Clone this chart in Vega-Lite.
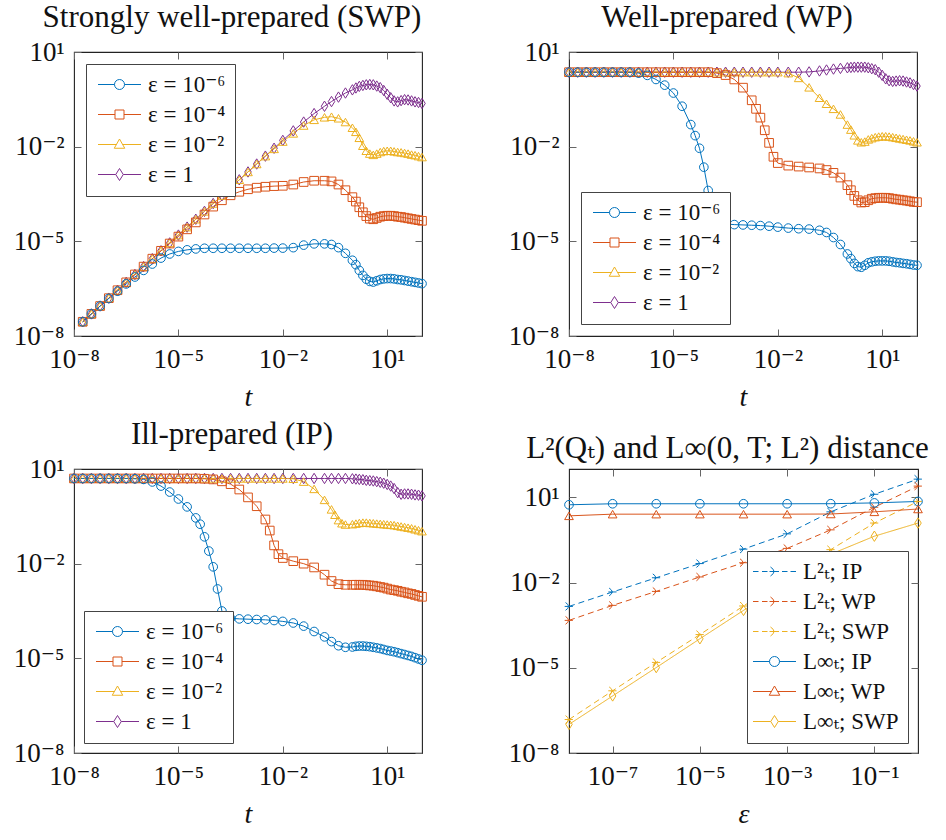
{
"$schema": "https://vega.github.io/schema/vega-lite/v6.json",
"background": "white",
"padding": {"left": 12, "top": 1, "right": 0, "bottom": 0},
"config": {
  "font": "Liberation Serif, Times New Roman, DejaVu Serif, serif",
  "view": {"stroke": "#222", "strokeWidth": 1.1},
  "axis": {"domain": false, "grid": false, "tickSize": -7, "tickColor": "#666", "tickWidth": 1, "labelPadding": 17, "labelFont": "Liberation Serif, Times New Roman, DejaVu Serif, serif", "labelFontSize": 27, "labelColor": "#111", "labelFlush": false, "labelOverlap": false, "titleFont": "Liberation Serif, Times New Roman, DejaVu Serif, serif", "titleFontSize": 28, "titleFontStyle": "italic", "titleFontWeight": "normal", "titleColor": "#111", "titlePadding": 11},
  "legend": {"labelFont": "Liberation Serif, Times New Roman, DejaVu Serif, serif"},
  "title": {"font": "Liberation Serif, Times New Roman, DejaVu Serif, serif", "fontSize": 31, "fontWeight": "normal", "color": "#111"}
},
"datasets": {
"swp": [
{"e":"1","t":1.78e-8,"v":2.82e-8},{"e":"1","t":3.16e-8,"v":5.01e-8},{"e":"1","t":5.62e-8,"v":8.91e-8},{"e":"1","t":1e-7,"v":1.58e-7},{"e":"1","t":1.78e-7,"v":2.82e-7},{"e":"1","t":3.16e-7,"v":5.01e-7},{"e":"1","t":5.62e-7,"v":8.91e-7},{"e":"1","t":1e-6,"v":1.58e-6},{"e":"1","t":1.78e-6,"v":2.82e-6},{"e":"1","t":3.16e-6,"v":5.01e-6},{"e":"1","t":5.62e-6,"v":8.91e-6},{"e":"1","t":1e-5,"v":1.58e-5},{"e":"1","t":1.78e-5,"v":2.82e-5},{"e":"1","t":3.16e-5,"v":5.01e-5},{"e":"1","t":5.62e-5,"v":8.91e-5},{"e":"1","t":1e-4,"v":1.58e-4},{"e":"1","t":1.78e-4,"v":2.82e-4},{"e":"1","t":3.16e-4,"v":5.01e-4},{"e":"1","t":5.62e-4,"v":8.91e-4},{"e":"1","t":1e-3,"v":1.58e-3},{"e":"1","t":1.78e-3,"v":2.82e-3},{"e":"1","t":3.16e-3,"v":5.01e-3},{"e":"1","t":5.62e-3,"v":8.91e-3},{"e":"1","t":0.01,"v":0.0158},{"e":"1","t":0.02,"v":0.0316},{"e":"1","t":0.0398,"v":0.0603},{"e":"1","t":0.0794,"v":0.112},{"e":"1","t":0.158,"v":0.191},{"e":"1","t":0.251,"v":0.269},{"e":"1","t":0.398,"v":0.372},{"e":"1","t":0.631,"v":0.501},{"e":"1","t":1,"v":0.631},{"e":"1","t":1.26,"v":0.724},{"e":"1","t":1.58,"v":0.813},{"e":"1","t":2,"v":0.871},{"e":"1","t":2.51,"v":0.912},{"e":"1","t":3.16,"v":0.933},{"e":"1","t":3.98,"v":0.912},{"e":"1","t":5.01,"v":0.832},{"e":"1","t":6.31,"v":0.741},{"e":"1","t":7.94,"v":0.603},{"e":"1","t":10,"v":0.457},{"e":"1","t":12.6,"v":0.355},{"e":"1","t":15.8,"v":0.282},{"e":"1","t":20,"v":0.263},{"e":"1","t":25.1,"v":0.288},{"e":"1","t":31.6,"v":0.309},{"e":"1","t":39.8,"v":0.302},{"e":"1","t":50.1,"v":0.282},{"e":"1","t":63.1,"v":0.263},{"e":"1","t":79.4,"v":0.251},{"e":"1","t":100,"v":0.234},
{"e":"1e-2","t":1.78e-8,"v":2.82e-8},{"e":"1e-2","t":3.16e-8,"v":5.01e-8},{"e":"1e-2","t":5.62e-8,"v":8.91e-8},{"e":"1e-2","t":1e-7,"v":1.58e-7},{"e":"1e-2","t":1.78e-7,"v":2.82e-7},{"e":"1e-2","t":3.16e-7,"v":5.01e-7},{"e":"1e-2","t":5.62e-7,"v":8.91e-7},{"e":"1e-2","t":1e-6,"v":1.58e-6},{"e":"1e-2","t":1.78e-6,"v":2.82e-6},{"e":"1e-2","t":3.16e-6,"v":5.01e-6},{"e":"1e-2","t":5.62e-6,"v":8.91e-6},{"e":"1e-2","t":1e-5,"v":1.58e-5},{"e":"1e-2","t":1.78e-5,"v":2.82e-5},{"e":"1e-2","t":3.16e-5,"v":5.01e-5},{"e":"1e-2","t":5.62e-5,"v":8.91e-5},{"e":"1e-2","t":1e-4,"v":1.58e-4},{"e":"1e-2","t":1.78e-4,"v":2.82e-4},{"e":"1e-2","t":3.16e-4,"v":5.01e-4},{"e":"1e-2","t":5.62e-4,"v":8.91e-4},{"e":"1e-2","t":1e-3,"v":1.58e-3},{"e":"1e-2","t":1.78e-3,"v":2.82e-3},{"e":"1e-2","t":3.16e-3,"v":5.01e-3},{"e":"1e-2","t":5.62e-3,"v":8.51e-3},{"e":"1e-2","t":0.01,"v":0.0145},{"e":"1e-2","t":0.02,"v":0.0263},{"e":"1e-2","t":0.0398,"v":0.0468},{"e":"1e-2","t":0.0794,"v":0.0708},{"e":"1e-2","t":0.158,"v":0.0851},{"e":"1e-2","t":0.251,"v":0.0891},{"e":"1e-2","t":0.398,"v":0.0794},{"e":"1e-2","t":0.631,"v":0.0603},{"e":"1e-2","t":1,"v":0.0398},{"e":"1e-2","t":1.26,"v":0.0295},{"e":"1e-2","t":1.58,"v":0.0191},{"e":"1e-2","t":2,"v":0.0107},{"e":"1e-2","t":2.51,"v":7.41e-3},{"e":"1e-2","t":3.16,"v":6.03e-3},{"e":"1e-2","t":3.98,"v":5.5e-3},{"e":"1e-2","t":5.01,"v":6.03e-3},{"e":"1e-2","t":6.31,"v":6.76e-3},{"e":"1e-2","t":7.94,"v":7.24e-3},{"e":"1e-2","t":10,"v":7.41e-3},{"e":"1e-2","t":12.6,"v":7.41e-3},{"e":"1e-2","t":15.8,"v":7.08e-3},{"e":"1e-2","t":20,"v":6.76e-3},{"e":"1e-2","t":25.1,"v":6.61e-3},{"e":"1e-2","t":31.6,"v":6.31e-3},{"e":"1e-2","t":39.8,"v":6.03e-3},{"e":"1e-2","t":50.1,"v":5.62e-3},{"e":"1e-2","t":63.1,"v":5.37e-3},{"e":"1e-2","t":79.4,"v":5.01e-3},{"e":"1e-2","t":100,"v":4.68e-3},
{"e":"1e-4","t":1.78e-8,"v":2.82e-8},{"e":"1e-4","t":3.16e-8,"v":5.01e-8},{"e":"1e-4","t":5.62e-8,"v":8.91e-8},{"e":"1e-4","t":1e-7,"v":1.58e-7},{"e":"1e-4","t":1.78e-7,"v":2.82e-7},{"e":"1e-4","t":3.16e-7,"v":5.01e-7},{"e":"1e-4","t":5.62e-7,"v":8.91e-7},{"e":"1e-4","t":1e-6,"v":1.58e-6},{"e":"1e-4","t":1.78e-6,"v":2.82e-6},{"e":"1e-4","t":3.16e-6,"v":5.01e-6},{"e":"1e-4","t":5.62e-6,"v":8.51e-6},{"e":"1e-4","t":1e-5,"v":1.41e-5},{"e":"1e-4","t":1.78e-5,"v":2.4e-5},{"e":"1e-4","t":3.16e-5,"v":3.98e-5},{"e":"1e-4","t":5.62e-5,"v":7.08e-5},{"e":"1e-4","t":1e-4,"v":1.26e-4},{"e":"1e-4","t":1.78e-4,"v":2.0e-4},{"e":"1e-4","t":3.16e-4,"v":2.88e-4},{"e":"1e-4","t":5.62e-4,"v":3.72e-4},{"e":"1e-4","t":1e-3,"v":4.47e-4},{"e":"1e-4","t":1.78e-3,"v":5.01e-4},{"e":"1e-4","t":3.16e-3,"v":5.37e-4},{"e":"1e-4","t":5.62e-3,"v":5.62e-4},{"e":"1e-4","t":0.01,"v":5.75e-4},{"e":"1e-4","t":0.02,"v":6.31e-4},{"e":"1e-4","t":0.0398,"v":7.59e-4},{"e":"1e-4","t":0.0794,"v":8.32e-4},{"e":"1e-4","t":0.158,"v":8.32e-4},{"e":"1e-4","t":0.251,"v":7.94e-4},{"e":"1e-4","t":0.398,"v":6.31e-4},{"e":"1e-4","t":0.631,"v":4.17e-4},{"e":"1e-4","t":1,"v":2.51e-4},{"e":"1e-4","t":1.26,"v":1.82e-4},{"e":"1e-4","t":1.58,"v":1.2e-4},{"e":"1e-4","t":2,"v":8.32e-5},{"e":"1e-4","t":2.51,"v":6.31e-5},{"e":"1e-4","t":3.16,"v":5.25e-5},{"e":"1e-4","t":3.98,"v":5.01e-5},{"e":"1e-4","t":5.01,"v":5.5e-5},{"e":"1e-4","t":6.31,"v":6.03e-5},{"e":"1e-4","t":7.94,"v":6.31e-5},{"e":"1e-4","t":10,"v":6.46e-5},{"e":"1e-4","t":12.6,"v":6.46e-5},{"e":"1e-4","t":15.8,"v":6.31e-5},{"e":"1e-4","t":20,"v":6.03e-5},{"e":"1e-4","t":25.1,"v":5.89e-5},{"e":"1e-4","t":31.6,"v":5.62e-5},{"e":"1e-4","t":39.8,"v":5.37e-5},{"e":"1e-4","t":50.1,"v":5.13e-5},{"e":"1e-4","t":63.1,"v":4.9e-5},{"e":"1e-4","t":79.4,"v":4.68e-5},{"e":"1e-4","t":100,"v":4.47e-5},
{"e":"1e-6","t":1.78e-8,"v":2.82e-8},{"e":"1e-6","t":3.16e-8,"v":5.01e-8},{"e":"1e-6","t":5.62e-8,"v":8.91e-8},{"e":"1e-6","t":1e-7,"v":1.55e-7},{"e":"1e-6","t":1.78e-7,"v":2.63e-7},{"e":"1e-6","t":3.16e-7,"v":4.47e-7},{"e":"1e-6","t":5.62e-7,"v":7.41e-7},{"e":"1e-6","t":1e-6,"v":1.2e-6},{"e":"1e-6","t":1.78e-6,"v":1.91e-6},{"e":"1e-6","t":3.16e-6,"v":2.95e-6},{"e":"1e-6","t":5.62e-6,"v":3.98e-6},{"e":"1e-6","t":1e-5,"v":4.79e-6},{"e":"1e-6","t":1.78e-5,"v":5.37e-6},{"e":"1e-6","t":3.16e-5,"v":5.75e-6},{"e":"1e-6","t":5.62e-5,"v":6.03e-6},{"e":"1e-6","t":1e-4,"v":6.03e-6},{"e":"1e-6","t":1.78e-4,"v":6.03e-6},{"e":"1e-6","t":3.16e-4,"v":6.03e-6},{"e":"1e-6","t":5.62e-4,"v":6.03e-6},{"e":"1e-6","t":1e-3,"v":6.03e-6},{"e":"1e-6","t":1.78e-3,"v":6.03e-6},{"e":"1e-6","t":3.16e-3,"v":6.03e-6},{"e":"1e-6","t":5.62e-3,"v":6.1e-6},{"e":"1e-6","t":0.01,"v":6.1e-6},{"e":"1e-6","t":0.02,"v":6.31e-6},{"e":"1e-6","t":0.0398,"v":7.59e-6},{"e":"1e-6","t":0.0794,"v":8.32e-6},{"e":"1e-6","t":0.158,"v":8.32e-6},{"e":"1e-6","t":0.251,"v":7.94e-6},{"e":"1e-6","t":0.398,"v":6.31e-6},{"e":"1e-6","t":0.631,"v":4.17e-6},{"e":"1e-6","t":1,"v":2.51e-6},{"e":"1e-6","t":1.26,"v":1.82e-6},{"e":"1e-6","t":1.58,"v":1.2e-6},{"e":"1e-6","t":2,"v":8.32e-7},{"e":"1e-6","t":2.51,"v":6.31e-7},{"e":"1e-6","t":3.16,"v":5.37e-7},{"e":"1e-6","t":3.98,"v":5.13e-7},{"e":"1e-6","t":5.01,"v":5.62e-7},{"e":"1e-6","t":6.31,"v":6.17e-7},{"e":"1e-6","t":7.94,"v":6.46e-7},{"e":"1e-6","t":10,"v":6.61e-7},{"e":"1e-6","t":12.6,"v":6.61e-7},{"e":"1e-6","t":15.8,"v":6.46e-7},{"e":"1e-6","t":20,"v":6.17e-7},{"e":"1e-6","t":25.1,"v":6.03e-7},{"e":"1e-6","t":31.6,"v":5.75e-7},{"e":"1e-6","t":39.8,"v":5.5e-7},{"e":"1e-6","t":50.1,"v":5.25e-7},{"e":"1e-6","t":63.1,"v":5.01e-7},{"e":"1e-6","t":79.4,"v":4.79e-7},{"e":"1e-6","t":100,"v":4.57e-7}
],
"wp": [
{"e":"1","t":1e-8,"v":2.29},{"e":"1","t":1.78e-8,"v":2.29},{"e":"1","t":3.16e-8,"v":2.29},{"e":"1","t":5.62e-8,"v":2.29},{"e":"1","t":1e-7,"v":2.29},{"e":"1","t":1.78e-7,"v":2.29},{"e":"1","t":3.16e-7,"v":2.29},{"e":"1","t":5.62e-7,"v":2.29},{"e":"1","t":1e-6,"v":2.29},{"e":"1","t":1.78e-6,"v":2.29},{"e":"1","t":3.16e-6,"v":2.29},{"e":"1","t":5.62e-6,"v":2.29},{"e":"1","t":1e-5,"v":2.29},{"e":"1","t":1.78e-5,"v":2.29},{"e":"1","t":3.16e-5,"v":2.29},{"e":"1","t":5.62e-5,"v":2.29},{"e":"1","t":1e-4,"v":2.29},{"e":"1","t":1.78e-4,"v":2.29},{"e":"1","t":3.16e-4,"v":2.29},{"e":"1","t":5.62e-4,"v":2.29},{"e":"1","t":1e-3,"v":2.29},{"e":"1","t":1.78e-3,"v":2.29},{"e":"1","t":3.16e-3,"v":2.29},{"e":"1","t":5.62e-3,"v":2.29},{"e":"1","t":0.01,"v":2.29},{"e":"1","t":0.02,"v":2.29},{"e":"1","t":0.0398,"v":2.29},{"e":"1","t":0.0794,"v":2.34},{"e":"1","t":0.158,"v":2.51},{"e":"1","t":0.251,"v":2.69},{"e":"1","t":0.398,"v":2.88},{"e":"1","t":0.631,"v":3.02},{"e":"1","t":1,"v":3.16},{"e":"1","t":1.26,"v":3.24},{"e":"1","t":1.58,"v":3.31},{"e":"1","t":2,"v":3.31},{"e":"1","t":2.51,"v":3.31},{"e":"1","t":3.16,"v":3.31},{"e":"1","t":3.98,"v":3.16},{"e":"1","t":5.01,"v":2.95},{"e":"1","t":6.31,"v":2.75},{"e":"1","t":7.94,"v":2.29},{"e":"1","t":10,"v":1.82},{"e":"1","t":12.6,"v":1.41},{"e":"1","t":15.8,"v":1.23},{"e":"1","t":20,"v":1.17},{"e":"1","t":25.1,"v":1.2},{"e":"1","t":31.6,"v":1.23},{"e":"1","t":39.8,"v":1.2},{"e":"1","t":50.1,"v":1.12},{"e":"1","t":63.1,"v":1.05},{"e":"1","t":79.4,"v":0.933},{"e":"1","t":100,"v":0.832},
{"e":"1e-2","t":1e-8,"v":2.29},{"e":"1e-2","t":1.78e-8,"v":2.29},{"e":"1e-2","t":3.16e-8,"v":2.29},{"e":"1e-2","t":5.62e-8,"v":2.29},{"e":"1e-2","t":1e-7,"v":2.29},{"e":"1e-2","t":1.78e-7,"v":2.29},{"e":"1e-2","t":3.16e-7,"v":2.29},{"e":"1e-2","t":5.62e-7,"v":2.29},{"e":"1e-2","t":1e-6,"v":2.29},{"e":"1e-2","t":1.78e-6,"v":2.29},{"e":"1e-2","t":3.16e-6,"v":2.29},{"e":"1e-2","t":5.62e-6,"v":2.29},{"e":"1e-2","t":1e-5,"v":2.29},{"e":"1e-2","t":1.78e-5,"v":2.29},{"e":"1e-2","t":3.16e-5,"v":2.29},{"e":"1e-2","t":5.62e-5,"v":2.29},{"e":"1e-2","t":1e-4,"v":2.29},{"e":"1e-2","t":1.78e-4,"v":2.29},{"e":"1e-2","t":3.16e-4,"v":2.29},{"e":"1e-2","t":5.62e-4,"v":2.29},{"e":"1e-2","t":1e-3,"v":2.29},{"e":"1e-2","t":1.78e-3,"v":2.29},{"e":"1e-2","t":3.16e-3,"v":2.29},{"e":"1e-2","t":5.62e-3,"v":2.29},{"e":"1e-2","t":0.01,"v":2.29},{"e":"1e-2","t":0.02,"v":2.14},{"e":"1e-2","t":0.0398,"v":1.51},{"e":"1e-2","t":0.0794,"v":0.759},{"e":"1e-2","t":0.158,"v":0.355},{"e":"1e-2","t":0.251,"v":0.229},{"e":"1e-2","t":0.398,"v":0.158},{"e":"1e-2","t":0.631,"v":0.105},{"e":"1e-2","t":1,"v":0.0501},{"e":"1e-2","t":1.26,"v":0.0347},{"e":"1e-2","t":1.58,"v":0.0229},{"e":"1e-2","t":2,"v":0.0158},{"e":"1e-2","t":2.51,"v":0.0138},{"e":"1e-2","t":3.16,"v":0.0145},{"e":"1e-2","t":3.98,"v":0.017},{"e":"1e-2","t":5.01,"v":0.0186},{"e":"1e-2","t":6.31,"v":0.02},{"e":"1e-2","t":7.94,"v":0.0209},{"e":"1e-2","t":10,"v":0.0214},{"e":"1e-2","t":12.6,"v":0.0214},{"e":"1e-2","t":15.8,"v":0.0209},{"e":"1e-2","t":20,"v":0.02},{"e":"1e-2","t":25.1,"v":0.0191},{"e":"1e-2","t":31.6,"v":0.0182},{"e":"1e-2","t":39.8,"v":0.0174},{"e":"1e-2","t":50.1,"v":0.0166},{"e":"1e-2","t":63.1,"v":0.0158},{"e":"1e-2","t":79.4,"v":0.0148},{"e":"1e-2","t":100,"v":0.0138},
{"e":"1e-4","t":1e-8,"v":2.29},{"e":"1e-4","t":1.78e-8,"v":2.29},{"e":"1e-4","t":3.16e-8,"v":2.29},{"e":"1e-4","t":5.62e-8,"v":2.29},{"e":"1e-4","t":1e-7,"v":2.29},{"e":"1e-4","t":1.78e-7,"v":2.29},{"e":"1e-4","t":3.16e-7,"v":2.29},{"e":"1e-4","t":5.62e-7,"v":2.29},{"e":"1e-4","t":1e-6,"v":2.29},{"e":"1e-4","t":1.78e-6,"v":2.29},{"e":"1e-4","t":3.16e-6,"v":2.29},{"e":"1e-4","t":5.62e-6,"v":2.29},{"e":"1e-4","t":1e-5,"v":2.29},{"e":"1e-4","t":1.78e-5,"v":2.29},{"e":"1e-4","t":3.16e-5,"v":2.29},{"e":"1e-4","t":5.62e-5,"v":2.29},{"e":"1e-4","t":1e-4,"v":2.29},{"e":"1e-4","t":1.78e-4,"v":2.14},{"e":"1e-4","t":3.16e-4,"v":1.86},{"e":"1e-4","t":5.62e-4,"v":1.35},{"e":"1e-4","t":1e-3,"v":0.741},{"e":"1e-4","t":1.78e-3,"v":0.295},{"e":"1e-4","t":2.37e-3,"v":0.158},{"e":"1e-4","t":3.16e-3,"v":0.0832},{"e":"1e-4","t":4.22e-3,"v":0.0331},{"e":"1e-4","t":5.62e-3,"v":0.0132},{"e":"1e-4","t":7.5e-3,"v":4.79e-3},{"e":"1e-4","t":0.01,"v":3.02e-3},{"e":"1e-4","t":0.02,"v":2.51e-3},{"e":"1e-4","t":0.0398,"v":2.34e-3},{"e":"1e-4","t":0.0794,"v":2.19e-3},{"e":"1e-4","t":0.158,"v":2.04e-3},{"e":"1e-4","t":0.251,"v":1.82e-3},{"e":"1e-4","t":0.398,"v":1.48e-3},{"e":"1e-4","t":0.631,"v":1.05e-3},{"e":"1e-4","t":1,"v":6.03e-4},{"e":"1e-4","t":1.26,"v":4.17e-4},{"e":"1e-4","t":1.58,"v":2.75e-4},{"e":"1e-4","t":2,"v":2.0e-4},{"e":"1e-4","t":2.51,"v":1.7e-4},{"e":"1e-4","t":3.16,"v":1.74e-4},{"e":"1e-4","t":3.98,"v":2.0e-4},{"e":"1e-4","t":5.01,"v":2.24e-4},{"e":"1e-4","t":6.31,"v":2.34e-4},{"e":"1e-4","t":7.94,"v":2.4e-4},{"e":"1e-4","t":10,"v":2.4e-4},{"e":"1e-4","t":12.6,"v":2.4e-4},{"e":"1e-4","t":15.8,"v":2.34e-4},{"e":"1e-4","t":20,"v":2.24e-4},{"e":"1e-4","t":25.1,"v":2.14e-4},{"e":"1e-4","t":31.6,"v":2.09e-4},{"e":"1e-4","t":39.8,"v":2.0e-4},{"e":"1e-4","t":50.1,"v":1.95e-4},{"e":"1e-4","t":63.1,"v":1.86e-4},{"e":"1e-4","t":79.4,"v":1.78e-4},{"e":"1e-4","t":100,"v":1.74e-4},
{"e":"1e-6","t":1e-8,"v":2.29},{"e":"1e-6","t":1.78e-8,"v":2.29},{"e":"1e-6","t":3.16e-8,"v":2.29},{"e":"1e-6","t":5.62e-8,"v":2.29},{"e":"1e-6","t":1e-7,"v":2.29},{"e":"1e-6","t":1.78e-7,"v":2.29},{"e":"1e-6","t":3.16e-7,"v":2.29},{"e":"1e-6","t":5.62e-7,"v":2.29},{"e":"1e-6","t":1e-6,"v":2.14},{"e":"1e-6","t":1.78e-6,"v":1.82},{"e":"1e-6","t":3.16e-6,"v":1.35},{"e":"1e-6","t":5.62e-6,"v":0.891},{"e":"1e-6","t":1e-5,"v":0.501},{"e":"1e-6","t":1.78e-5,"v":0.191},{"e":"1e-6","t":3.16e-5,"v":0.0501},{"e":"1e-6","t":4.22e-5,"v":0.0224},{"e":"1e-6","t":5.62e-5,"v":8.91e-3},{"e":"1e-6","t":7.5e-5,"v":2.24e-3},{"e":"1e-6","t":1e-4,"v":4.07e-4},{"e":"1e-6","t":1.33e-4,"v":1.12e-4},{"e":"1e-6","t":1.78e-4,"v":5.01e-5},{"e":"1e-6","t":3.16e-4,"v":3.55e-5},{"e":"1e-6","t":5.62e-4,"v":3.39e-5},{"e":"1e-6","t":1e-3,"v":3.31e-5},{"e":"1e-6","t":1.78e-3,"v":3.24e-5},{"e":"1e-6","t":3.16e-3,"v":3.16e-5},{"e":"1e-6","t":5.62e-3,"v":3.02e-5},{"e":"1e-6","t":0.01,"v":2.82e-5},{"e":"1e-6","t":0.02,"v":2.63e-5},{"e":"1e-6","t":0.0398,"v":2.51e-5},{"e":"1e-6","t":0.0794,"v":2.45e-5},{"e":"1e-6","t":0.158,"v":2.24e-5},{"e":"1e-6","t":0.251,"v":1.91e-5},{"e":"1e-6","t":0.398,"v":1.32e-5},{"e":"1e-6","t":0.631,"v":7.94e-6},{"e":"1e-6","t":1,"v":3.98e-6},{"e":"1e-6","t":1.26,"v":2.82e-6},{"e":"1e-6","t":1.58,"v":2.0e-6},{"e":"1e-6","t":2,"v":1.58e-6},{"e":"1e-6","t":2.51,"v":1.51e-6},{"e":"1e-6","t":3.16,"v":1.74e-6},{"e":"1e-6","t":3.98,"v":2.09e-6},{"e":"1e-6","t":5.01,"v":2.24e-6},{"e":"1e-6","t":6.31,"v":2.34e-6},{"e":"1e-6","t":7.94,"v":2.4e-6},{"e":"1e-6","t":10,"v":2.4e-6},{"e":"1e-6","t":12.6,"v":2.4e-6},{"e":"1e-6","t":15.8,"v":2.34e-6},{"e":"1e-6","t":20,"v":2.24e-6},{"e":"1e-6","t":25.1,"v":2.14e-6},{"e":"1e-6","t":31.6,"v":2.09e-6},{"e":"1e-6","t":39.8,"v":2.0e-6},{"e":"1e-6","t":50.1,"v":1.95e-6},{"e":"1e-6","t":63.1,"v":1.86e-6},{"e":"1e-6","t":79.4,"v":1.78e-6},{"e":"1e-6","t":100,"v":1.74e-6}
],
"ip": [
{"e":"1","t":1e-8,"v":5.01},{"e":"1","t":1.78e-8,"v":5.01},{"e":"1","t":3.16e-8,"v":5.01},{"e":"1","t":5.62e-8,"v":5.01},{"e":"1","t":1e-7,"v":5.01},{"e":"1","t":1.78e-7,"v":5.01},{"e":"1","t":3.16e-7,"v":5.01},{"e":"1","t":5.62e-7,"v":5.01},{"e":"1","t":1e-6,"v":5.01},{"e":"1","t":1.78e-6,"v":5.01},{"e":"1","t":3.16e-6,"v":5.01},{"e":"1","t":5.62e-6,"v":5.01},{"e":"1","t":1e-5,"v":5.01},{"e":"1","t":1.78e-5,"v":5.01},{"e":"1","t":3.16e-5,"v":5.01},{"e":"1","t":5.62e-5,"v":5.01},{"e":"1","t":1e-4,"v":5.01},{"e":"1","t":1.78e-4,"v":5.01},{"e":"1","t":3.16e-4,"v":5.01},{"e":"1","t":5.62e-4,"v":5.01},{"e":"1","t":1e-3,"v":5.01},{"e":"1","t":1.78e-3,"v":5.01},{"e":"1","t":3.16e-3,"v":5.01},{"e":"1","t":5.62e-3,"v":5.01},{"e":"1","t":0.01,"v":5.01},{"e":"1","t":0.02,"v":5.01},{"e":"1","t":0.0398,"v":5.01},{"e":"1","t":0.0794,"v":5.01},{"e":"1","t":0.158,"v":5.01},{"e":"1","t":0.251,"v":5.01},{"e":"1","t":0.398,"v":5.01},{"e":"1","t":0.631,"v":5.01},{"e":"1","t":1,"v":4.9},{"e":"1","t":1.26,"v":4.79},{"e":"1","t":1.58,"v":4.68},{"e":"1","t":2,"v":4.57},{"e":"1","t":2.51,"v":4.37},{"e":"1","t":3.16,"v":4.27},{"e":"1","t":3.98,"v":4.17},{"e":"1","t":5.01,"v":3.98},{"e":"1","t":6.31,"v":3.8},{"e":"1","t":7.94,"v":3.55},{"e":"1","t":10,"v":3.24},{"e":"1","t":12.6,"v":2.88},{"e":"1","t":15.8,"v":2.4},{"e":"1","t":20,"v":1.78},{"e":"1","t":25.1,"v":1.58},{"e":"1","t":31.6,"v":1.62},{"e":"1","t":39.8,"v":1.62},{"e":"1","t":50.1,"v":1.58},{"e":"1","t":63.1,"v":1.51},{"e":"1","t":79.4,"v":1.48},{"e":"1","t":100,"v":1.41},
{"e":"1e-2","t":1e-8,"v":5.01},{"e":"1e-2","t":1.78e-8,"v":5.01},{"e":"1e-2","t":3.16e-8,"v":5.01},{"e":"1e-2","t":5.62e-8,"v":5.01},{"e":"1e-2","t":1e-7,"v":5.01},{"e":"1e-2","t":1.78e-7,"v":5.01},{"e":"1e-2","t":3.16e-7,"v":5.01},{"e":"1e-2","t":5.62e-7,"v":5.01},{"e":"1e-2","t":1e-6,"v":5.01},{"e":"1e-2","t":1.78e-6,"v":5.01},{"e":"1e-2","t":3.16e-6,"v":5.01},{"e":"1e-2","t":5.62e-6,"v":5.01},{"e":"1e-2","t":1e-5,"v":5.01},{"e":"1e-2","t":1.78e-5,"v":5.01},{"e":"1e-2","t":3.16e-5,"v":5.01},{"e":"1e-2","t":5.62e-5,"v":5.01},{"e":"1e-2","t":1e-4,"v":5.01},{"e":"1e-2","t":1.78e-4,"v":5.01},{"e":"1e-2","t":3.16e-4,"v":5.01},{"e":"1e-2","t":5.62e-4,"v":5.01},{"e":"1e-2","t":1e-3,"v":5.01},{"e":"1e-2","t":1.78e-3,"v":5.01},{"e":"1e-2","t":3.16e-3,"v":5.01},{"e":"1e-2","t":5.62e-3,"v":5.01},{"e":"1e-2","t":0.01,"v":5.01},{"e":"1e-2","t":0.02,"v":4.9},{"e":"1e-2","t":0.0398,"v":3.98},{"e":"1e-2","t":0.0794,"v":2.34},{"e":"1e-2","t":0.158,"v":1.05},{"e":"1e-2","t":0.251,"v":0.525},{"e":"1e-2","t":0.316,"v":0.355},{"e":"1e-2","t":0.398,"v":0.24},{"e":"1e-2","t":0.501,"v":0.191},{"e":"1e-2","t":0.631,"v":0.174},{"e":"1e-2","t":1,"v":0.178},{"e":"1e-2","t":1.26,"v":0.186},{"e":"1e-2","t":1.58,"v":0.195},{"e":"1e-2","t":2,"v":0.2},{"e":"1e-2","t":2.51,"v":0.2},{"e":"1e-2","t":3.16,"v":0.195},{"e":"1e-2","t":3.98,"v":0.191},{"e":"1e-2","t":5.01,"v":0.186},{"e":"1e-2","t":6.31,"v":0.182},{"e":"1e-2","t":7.94,"v":0.178},{"e":"1e-2","t":10,"v":0.174},{"e":"1e-2","t":12.6,"v":0.17},{"e":"1e-2","t":15.8,"v":0.166},{"e":"1e-2","t":20,"v":0.158},{"e":"1e-2","t":25.1,"v":0.151},{"e":"1e-2","t":31.6,"v":0.145},{"e":"1e-2","t":39.8,"v":0.138},{"e":"1e-2","t":50.1,"v":0.132},{"e":"1e-2","t":63.1,"v":0.123},{"e":"1e-2","t":79.4,"v":0.115},{"e":"1e-2","t":100,"v":0.107},
{"e":"1e-4","t":1e-8,"v":5.01},{"e":"1e-4","t":1.78e-8,"v":5.01},{"e":"1e-4","t":3.16e-8,"v":5.01},{"e":"1e-4","t":5.62e-8,"v":5.01},{"e":"1e-4","t":1e-7,"v":5.01},{"e":"1e-4","t":1.78e-7,"v":5.01},{"e":"1e-4","t":3.16e-7,"v":5.01},{"e":"1e-4","t":5.62e-7,"v":5.01},{"e":"1e-4","t":1e-6,"v":5.01},{"e":"1e-4","t":1.78e-6,"v":5.01},{"e":"1e-4","t":3.16e-6,"v":5.01},{"e":"1e-4","t":5.62e-6,"v":5.01},{"e":"1e-4","t":1e-5,"v":5.01},{"e":"1e-4","t":1.78e-5,"v":5.01},{"e":"1e-4","t":3.16e-5,"v":5.01},{"e":"1e-4","t":5.62e-5,"v":4.9},{"e":"1e-4","t":1e-4,"v":4.68},{"e":"1e-4","t":1.78e-4,"v":4.07},{"e":"1e-4","t":3.16e-4,"v":3.31},{"e":"1e-4","t":5.62e-4,"v":2.24},{"e":"1e-4","t":1e-3,"v":1.26},{"e":"1e-4","t":1.78e-3,"v":0.661},{"e":"1e-4","t":3.16e-3,"v":0.251},{"e":"1e-4","t":4.22e-3,"v":0.112},{"e":"1e-4","t":5.62e-3,"v":0.038},{"e":"1e-4","t":7.5e-3,"v":0.02},{"e":"1e-4","t":0.01,"v":0.0151},{"e":"1e-4","t":0.02,"v":0.012},{"e":"1e-4","t":0.0398,"v":0.01},{"e":"1e-4","t":0.0794,"v":7.59e-3},{"e":"1e-4","t":0.158,"v":4.47e-3},{"e":"1e-4","t":0.251,"v":2.82e-3},{"e":"1e-4","t":0.398,"v":2.24e-3},{"e":"1e-4","t":0.631,"v":2.14e-3},{"e":"1e-4","t":1,"v":2.14e-3},{"e":"1e-4","t":1.26,"v":2.14e-3},{"e":"1e-4","t":1.58,"v":2.14e-3},{"e":"1e-4","t":2,"v":2.14e-3},{"e":"1e-4","t":2.51,"v":2.09e-3},{"e":"1e-4","t":3.16,"v":2.04e-3},{"e":"1e-4","t":3.98,"v":2.0e-3},{"e":"1e-4","t":5.01,"v":1.91e-3},{"e":"1e-4","t":6.31,"v":1.82e-3},{"e":"1e-4","t":7.94,"v":1.74e-3},{"e":"1e-4","t":10,"v":1.62e-3},{"e":"1e-4","t":12.6,"v":1.51e-3},{"e":"1e-4","t":15.8,"v":1.45e-3},{"e":"1e-4","t":20,"v":1.38e-3},{"e":"1e-4","t":25.1,"v":1.29e-3},{"e":"1e-4","t":31.6,"v":1.23e-3},{"e":"1e-4","t":39.8,"v":1.15e-3},{"e":"1e-4","t":50.1,"v":1.1e-3},{"e":"1e-4","t":63.1,"v":1.02e-3},{"e":"1e-4","t":79.4,"v":9.55e-4},{"e":"1e-4","t":100,"v":8.91e-4},
{"e":"1e-6","t":1e-8,"v":5.01},{"e":"1e-6","t":1.78e-8,"v":5.01},{"e":"1e-6","t":3.16e-8,"v":5.01},{"e":"1e-6","t":5.62e-8,"v":5.01},{"e":"1e-6","t":1e-7,"v":5.01},{"e":"1e-6","t":1.78e-7,"v":5.01},{"e":"1e-6","t":3.16e-7,"v":5.01},{"e":"1e-6","t":5.62e-7,"v":4.9},{"e":"1e-6","t":1e-6,"v":4.68},{"e":"1e-6","t":1.78e-6,"v":3.89},{"e":"1e-6","t":3.16e-6,"v":2.88},{"e":"1e-6","t":5.62e-6,"v":1.86},{"e":"1e-6","t":1e-5,"v":1.12},{"e":"1e-6","t":1.78e-5,"v":0.631},{"e":"1e-6","t":3.16e-5,"v":0.282},{"e":"1e-6","t":4.22e-5,"v":0.178},{"e":"1e-6","t":5.62e-5,"v":0.0708},{"e":"1e-6","t":7.5e-5,"v":0.0251},{"e":"1e-6","t":1e-4,"v":7.94e-3},{"e":"1e-6","t":1.33e-4,"v":1.58e-3},{"e":"1e-6","t":1.78e-4,"v":3.16e-4},{"e":"1e-6","t":2.37e-4,"v":2.0e-4},{"e":"1e-6","t":3.16e-4,"v":1.86e-4},{"e":"1e-6","t":5.62e-4,"v":1.78e-4},{"e":"1e-6","t":1e-3,"v":1.74e-4},{"e":"1e-6","t":1.78e-3,"v":1.7e-4},{"e":"1e-6","t":3.16e-3,"v":1.66e-4},{"e":"1e-6","t":5.62e-3,"v":1.58e-4},{"e":"1e-6","t":0.01,"v":1.48e-4},{"e":"1e-6","t":0.02,"v":1.32e-4},{"e":"1e-6","t":0.0398,"v":1.05e-4},{"e":"1e-6","t":0.0794,"v":7.08e-5},{"e":"1e-6","t":0.158,"v":4.79e-5},{"e":"1e-6","t":0.251,"v":3.39e-5},{"e":"1e-6","t":0.398,"v":2.51e-5},{"e":"1e-6","t":0.631,"v":2.24e-5},{"e":"1e-6","t":1,"v":2.29e-5},{"e":"1e-6","t":1.26,"v":2.4e-5},{"e":"1e-6","t":1.58,"v":2.45e-5},{"e":"1e-6","t":2,"v":2.45e-5},{"e":"1e-6","t":2.51,"v":2.4e-5},{"e":"1e-6","t":3.16,"v":2.34e-5},{"e":"1e-6","t":3.98,"v":2.24e-5},{"e":"1e-6","t":5.01,"v":2.14e-5},{"e":"1e-6","t":6.31,"v":2.04e-5},{"e":"1e-6","t":7.94,"v":1.91e-5},{"e":"1e-6","t":10,"v":1.78e-5},{"e":"1e-6","t":12.6,"v":1.7e-5},{"e":"1e-6","t":15.8,"v":1.62e-5},{"e":"1e-6","t":20,"v":1.51e-5},{"e":"1e-6","t":25.1,"v":1.41e-5},{"e":"1e-6","t":31.6,"v":1.32e-5},{"e":"1e-6","t":39.8,"v":1.23e-5},{"e":"1e-6","t":50.1,"v":1.15e-5},{"e":"1e-6","t":63.1,"v":1.05e-5},{"e":"1e-6","t":79.4,"v":9.55e-6},{"e":"1e-6","t":100,"v":8.71e-6}
],
"dist": [
{"s":"L2 IP","eps":1e-8,"v":1.45e-3},{"s":"L2 IP","eps":1e-7,"v":4.68e-3},{"s":"L2 IP","eps":1e-6,"v":0.0148},{"s":"L2 IP","eps":1e-5,"v":0.0468},{"s":"L2 IP","eps":1e-4,"v":0.151},{"s":"L2 IP","eps":1e-3,"v":0.52},{"s":"L2 IP","eps":0.01,"v":3.1},{"s":"L2 IP","eps":0.1,"v":12.9},{"s":"L2 IP","eps":1,"v":44},
{"s":"L2 WP","eps":1e-8,"v":4.68e-4},{"s":"L2 WP","eps":1e-7,"v":1.58e-3},{"s":"L2 WP","eps":1e-6,"v":4.9e-3},{"s":"L2 WP","eps":1e-5,"v":0.0158},{"s":"L2 WP","eps":1e-4,"v":0.0501},{"s":"L2 WP","eps":1e-3,"v":0.16},{"s":"L2 WP","eps":0.01,"v":0.72},{"s":"L2 WP","eps":0.1,"v":4.5},{"s":"L2 WP","eps":1,"v":25},
{"s":"L2 SWP","eps":1e-8,"v":1.51e-7},{"s":"L2 SWP","eps":1e-7,"v":1.55e-6},{"s":"L2 SWP","eps":1e-6,"v":1.55e-5},{"s":"L2 SWP","eps":1e-5,"v":1.48e-4},{"s":"L2 SWP","eps":1e-4,"v":1.5e-3},{"s":"L2 SWP","eps":1e-3,"v":0.015},{"s":"L2 SWP","eps":0.01,"v":0.145},{"s":"L2 SWP","eps":0.1,"v":1.25},{"s":"L2 SWP","eps":1,"v":7.2},
{"s":"Linf IP","eps":1e-8,"v":5.5},{"s":"Linf IP","eps":1e-7,"v":5.97},{"s":"Linf IP","eps":1e-6,"v":5.97},{"s":"Linf IP","eps":1e-5,"v":5.97},{"s":"Linf IP","eps":1e-4,"v":5.97},{"s":"Linf IP","eps":1e-3,"v":5.97},{"s":"Linf IP","eps":0.01,"v":6.0},{"s":"Linf IP","eps":0.1,"v":6.4},{"s":"Linf IP","eps":1,"v":7.2},
{"s":"Linf WP","eps":1e-8,"v":2.24},{"s":"Linf WP","eps":1e-7,"v":2.57},{"s":"Linf WP","eps":1e-6,"v":2.57},{"s":"Linf WP","eps":1e-5,"v":2.57},{"s":"Linf WP","eps":1e-4,"v":2.57},{"s":"Linf WP","eps":1e-3,"v":2.57},{"s":"Linf WP","eps":0.01,"v":2.6},{"s":"Linf WP","eps":0.1,"v":3.1},{"s":"Linf WP","eps":1,"v":3.9},
{"s":"Linf SWP","eps":1e-8,"v":1.02e-7},{"s":"Linf SWP","eps":1e-7,"v":1.02e-6},{"s":"Linf SWP","eps":1e-6,"v":1.02e-5},{"s":"Linf SWP","eps":1e-5,"v":1.05e-4},{"s":"Linf SWP","eps":1e-4,"v":1.05e-3},{"s":"Linf SWP","eps":1e-3,"v":0.0103},{"s":"Linf SWP","eps":0.01,"v":0.1},{"s":"Linf SWP","eps":0.1,"v":0.43},{"s":"Linf SWP","eps":1,"v":1.25}
]
},
"columns": 2,
"spacing": {"row": 6, "column": 78},
"concat": [
{
 "width": 348, "height": 284,
 "title": {"text": "Strongly well-prepared (SWP)", "frame": "group", "dx": -16},
 "data": {"name": "swp"},
 "layer": [
  {"mark": {"type": "line", "strokeWidth": 1},
   "encoding": {
    "x": {"field": "t", "type": "quantitative", "scale": {"type": "log", "domain": [1e-8, 100], "nice": false}, "axis": {"orient": "bottom", "values": [1e-8, 1e-5, 0.01, 10], "labelExpr": "datum.value < 1e-7 ? '10⁻⁸' : datum.value < 1e-4 ? '10⁻⁵' : datum.value < 0.1 ? '10⁻²' : '10¹'", "title": "t"}},
    "y": {"field": "v", "type": "quantitative", "scale": {"type": "log", "domain": [1e-8, 10], "nice": false}, "axis": {"orient": "left", "values": [1e-8, 1e-5, 0.01, 10], "labelExpr": "datum.value < 1e-7 ? '10⁻⁸' : datum.value < 1e-4 ? '10⁻⁵' : datum.value < 0.1 ? '10⁻²' : '10¹'", "title": null}},
    "color": {"field": "e", "type": "nominal", "scale": {"domain": ["1e-6", "1e-4", "1e-2", "1"], "range": ["#0072BD", "#D95319", "#EDB120", "#7E2F8E"]}, "legend": null}}},
  {"mark": {"type": "point", "filled": false, "size": 75, "strokeWidth": 1, "opacity": 1},
   "encoding": {
    "x": {"field": "t", "type": "quantitative", "scale": {"type": "log", "domain": [1e-8, 100], "nice": false}, "axis": {"orient": "top", "values": [1e-8, 1e-5, 0.01, 10], "labels": false, "title": null}},
    "y": {"field": "v", "type": "quantitative", "scale": {"type": "log", "domain": [1e-8, 10], "nice": false}, "axis": {"orient": "right", "values": [1e-8, 1e-5, 0.01, 10], "labels": false, "title": null}},
    "color": {"field": "e", "type": "nominal", "scale": {"domain": ["1e-6", "1e-4", "1e-2", "1"], "range": ["#0072BD", "#D95319", "#EDB120", "#7E2F8E"]}, "legend": null},
    "shape": {"field": "e", "type": "nominal", "scale": {"domain": ["1e-6", "1e-4", "1e-2", "1"], "range": ["circle", "square", "triangle-up", "M0,-1.2L0.75,0L0,1.2L-0.75,0Z"]}, "legend": null}}},
  {"transform": [{"filter": "false"}],
   "mark": {"type": "point", "filled": false, "opacity": 1},
   "encoding": {
    "x": {"field": "t", "type": "quantitative", "scale": {"type": "log", "domain": [1e-8, 100], "nice": false}, "axis": null},
    "y": {"field": "v", "type": "quantitative", "scale": {"type": "log", "domain": [1e-8, 10], "nice": false}, "axis": null},
    "color": {"field": "e", "type": "nominal", "scale": {"domain": ["1e-6", "1e-4", "1e-2", "1"], "range": ["#0072BD", "#D95319", "#EDB120", "#7E2F8E"]}, "legend": {"orient": "top-left", "offset": 12, "title": null, "labelExpr": "datum.value == '1e-6' ? 'ε = 10⁻⁶' : datum.value == '1e-4' ? 'ε = 10⁻⁴' : datum.value == '1e-2' ? 'ε = 10⁻²' : 'ε = 1'", "symbolSize": 100, "symbolStrokeWidth": 1, "symbolOffset": 13, "labelOffset": 17, "labelFontSize": 23, "labelColor": "#111", "rowPadding": 6, "padding": 9, "strokeColor": "#444", "fillColor": "#ffffff"}},
    "shape": {"field": "e", "type": "nominal", "scale": {"domain": ["1e-6", "1e-4", "1e-2", "1"], "range": ["M-4.3,0H-1M1,0H4.3M-1,0A1,1 0 1,1 1,0A1,1 0 1,1 -1,0", "M-4.3,0H-0.9M0.9,0H4.3M-0.9,-0.9H0.9V0.9H-0.9Z", "M-4.3,0H-0.6M0.6,0H4.3M0,-1.1L1.05,0.75L-1.05,0.75Z", "M-4.3,0H-0.75M0.75,0H4.3M0,-1.2L0.75,0L0,1.2L-0.75,0Z"]}, "legend": {"orient": "top-left", "offset": 12, "title": null, "labelExpr": "datum.value == '1e-6' ? 'ε = 10⁻⁶' : datum.value == '1e-4' ? 'ε = 10⁻⁴' : datum.value == '1e-2' ? 'ε = 10⁻²' : 'ε = 1'", "symbolSize": 100, "symbolStrokeWidth": 1, "symbolOffset": 13, "labelOffset": 17, "labelFontSize": 23, "labelColor": "#111", "rowPadding": 6, "padding": 9, "strokeColor": "#444", "fillColor": "#ffffff"}}}}
 ],
 "resolve": {"scale": {"color": "independent", "shape": "independent"}, "axis": {"x": "independent", "y": "independent"}}
},
{
 "width": 348, "height": 284,
 "title": {"text": "Well-prepared (WP)", "frame": "group", "dx": -16},
 "data": {"name": "wp"},
 "layer": [
  {"mark": {"type": "line", "strokeWidth": 1},
   "encoding": {
    "x": {"field": "t", "type": "quantitative", "scale": {"type": "log", "domain": [1e-8, 100], "nice": false}, "axis": {"orient": "bottom", "values": [1e-8, 1e-5, 0.01, 10], "labelExpr": "datum.value < 1e-7 ? '10⁻⁸' : datum.value < 1e-4 ? '10⁻⁵' : datum.value < 0.1 ? '10⁻²' : '10¹'", "title": "t"}},
    "y": {"field": "v", "type": "quantitative", "scale": {"type": "log", "domain": [1e-8, 10], "nice": false}, "axis": {"orient": "left", "values": [1e-8, 1e-5, 0.01, 10], "labelExpr": "datum.value < 1e-7 ? '10⁻⁸' : datum.value < 1e-4 ? '10⁻⁵' : datum.value < 0.1 ? '10⁻²' : '10¹'", "title": null}},
    "color": {"field": "e", "type": "nominal", "scale": {"domain": ["1e-6", "1e-4", "1e-2", "1"], "range": ["#0072BD", "#D95319", "#EDB120", "#7E2F8E"]}, "legend": null}}},
  {"mark": {"type": "point", "filled": false, "size": 75, "strokeWidth": 1, "opacity": 1},
   "encoding": {
    "x": {"field": "t", "type": "quantitative", "scale": {"type": "log", "domain": [1e-8, 100], "nice": false}, "axis": {"orient": "top", "values": [1e-8, 1e-5, 0.01, 10], "labels": false, "title": null}},
    "y": {"field": "v", "type": "quantitative", "scale": {"type": "log", "domain": [1e-8, 10], "nice": false}, "axis": {"orient": "right", "values": [1e-8, 1e-5, 0.01, 10], "labels": false, "title": null}},
    "color": {"field": "e", "type": "nominal", "scale": {"domain": ["1e-6", "1e-4", "1e-2", "1"], "range": ["#0072BD", "#D95319", "#EDB120", "#7E2F8E"]}, "legend": null},
    "shape": {"field": "e", "type": "nominal", "scale": {"domain": ["1e-6", "1e-4", "1e-2", "1"], "range": ["circle", "square", "triangle-up", "M0,-1.2L0.75,0L0,1.2L-0.75,0Z"]}, "legend": null}}},
  {"transform": [{"filter": "false"}],
   "mark": {"type": "point", "filled": false, "opacity": 1},
   "encoding": {
    "x": {"field": "t", "type": "quantitative", "scale": {"type": "log", "domain": [1e-8, 100], "nice": false}, "axis": null},
    "y": {"field": "v", "type": "quantitative", "scale": {"type": "log", "domain": [1e-8, 10], "nice": false}, "axis": null},
    "color": {"field": "e", "type": "nominal", "scale": {"domain": ["1e-6", "1e-4", "1e-2", "1"], "range": ["#0072BD", "#D95319", "#EDB120", "#7E2F8E"]}, "legend": {"orient": "bottom-left", "offset": 12, "title": null, "labelExpr": "datum.value == '1e-6' ? 'ε = 10⁻⁶' : datum.value == '1e-4' ? 'ε = 10⁻⁴' : datum.value == '1e-2' ? 'ε = 10⁻²' : 'ε = 1'", "symbolSize": 100, "symbolStrokeWidth": 1, "symbolOffset": 13, "labelOffset": 17, "labelFontSize": 23, "labelColor": "#111", "rowPadding": 6, "padding": 9, "strokeColor": "#444", "fillColor": "#ffffff"}},
    "shape": {"field": "e", "type": "nominal", "scale": {"domain": ["1e-6", "1e-4", "1e-2", "1"], "range": ["M-4.3,0H-1M1,0H4.3M-1,0A1,1 0 1,1 1,0A1,1 0 1,1 -1,0", "M-4.3,0H-0.9M0.9,0H4.3M-0.9,-0.9H0.9V0.9H-0.9Z", "M-4.3,0H-0.6M0.6,0H4.3M0,-1.1L1.05,0.75L-1.05,0.75Z", "M-4.3,0H-0.75M0.75,0H4.3M0,-1.2L0.75,0L0,1.2L-0.75,0Z"]}, "legend": {"orient": "bottom-left", "offset": 12, "title": null, "labelExpr": "datum.value == '1e-6' ? 'ε = 10⁻⁶' : datum.value == '1e-4' ? 'ε = 10⁻⁴' : datum.value == '1e-2' ? 'ε = 10⁻²' : 'ε = 1'", "symbolSize": 100, "symbolStrokeWidth": 1, "symbolOffset": 13, "labelOffset": 17, "labelFontSize": 23, "labelColor": "#111", "rowPadding": 6, "padding": 9, "strokeColor": "#444", "fillColor": "#ffffff"}}}}
 ],
 "resolve": {"scale": {"color": "independent", "shape": "independent"}, "axis": {"x": "independent", "y": "independent"}}
},
{
 "width": 348, "height": 284,
 "title": {"text": "Ill-prepared (IP)", "frame": "group", "dx": -16},
 "data": {"name": "ip"},
 "layer": [
  {"mark": {"type": "line", "strokeWidth": 1},
   "encoding": {
    "x": {"field": "t", "type": "quantitative", "scale": {"type": "log", "domain": [1e-8, 100], "nice": false}, "axis": {"orient": "bottom", "values": [1e-8, 1e-5, 0.01, 10], "labelExpr": "datum.value < 1e-7 ? '10⁻⁸' : datum.value < 1e-4 ? '10⁻⁵' : datum.value < 0.1 ? '10⁻²' : '10¹'", "title": "t"}},
    "y": {"field": "v", "type": "quantitative", "scale": {"type": "log", "domain": [1e-8, 10], "nice": false}, "axis": {"orient": "left", "values": [1e-8, 1e-5, 0.01, 10], "labelExpr": "datum.value < 1e-7 ? '10⁻⁸' : datum.value < 1e-4 ? '10⁻⁵' : datum.value < 0.1 ? '10⁻²' : '10¹'", "title": null}},
    "color": {"field": "e", "type": "nominal", "scale": {"domain": ["1e-6", "1e-4", "1e-2", "1"], "range": ["#0072BD", "#D95319", "#EDB120", "#7E2F8E"]}, "legend": null}}},
  {"mark": {"type": "point", "filled": false, "size": 75, "strokeWidth": 1, "opacity": 1},
   "encoding": {
    "x": {"field": "t", "type": "quantitative", "scale": {"type": "log", "domain": [1e-8, 100], "nice": false}, "axis": {"orient": "top", "values": [1e-8, 1e-5, 0.01, 10], "labels": false, "title": null}},
    "y": {"field": "v", "type": "quantitative", "scale": {"type": "log", "domain": [1e-8, 10], "nice": false}, "axis": {"orient": "right", "values": [1e-8, 1e-5, 0.01, 10], "labels": false, "title": null}},
    "color": {"field": "e", "type": "nominal", "scale": {"domain": ["1e-6", "1e-4", "1e-2", "1"], "range": ["#0072BD", "#D95319", "#EDB120", "#7E2F8E"]}, "legend": null},
    "shape": {"field": "e", "type": "nominal", "scale": {"domain": ["1e-6", "1e-4", "1e-2", "1"], "range": ["circle", "square", "triangle-up", "M0,-1.2L0.75,0L0,1.2L-0.75,0Z"]}, "legend": null}}},
  {"transform": [{"filter": "false"}],
   "mark": {"type": "point", "filled": false, "opacity": 1},
   "encoding": {
    "x": {"field": "t", "type": "quantitative", "scale": {"type": "log", "domain": [1e-8, 100], "nice": false}, "axis": null},
    "y": {"field": "v", "type": "quantitative", "scale": {"type": "log", "domain": [1e-8, 10], "nice": false}, "axis": null},
    "color": {"field": "e", "type": "nominal", "scale": {"domain": ["1e-6", "1e-4", "1e-2", "1"], "range": ["#0072BD", "#D95319", "#EDB120", "#7E2F8E"]}, "legend": {"orient": "bottom-left", "offset": 10, "title": null, "labelExpr": "datum.value == '1e-6' ? 'ε = 10⁻⁶' : datum.value == '1e-4' ? 'ε = 10⁻⁴' : datum.value == '1e-2' ? 'ε = 10⁻²' : 'ε = 1'", "symbolSize": 100, "symbolStrokeWidth": 1, "symbolOffset": 13, "labelOffset": 17, "labelFontSize": 23, "labelColor": "#111", "rowPadding": 6, "padding": 9, "strokeColor": "#444", "fillColor": "#ffffff"}},
    "shape": {"field": "e", "type": "nominal", "scale": {"domain": ["1e-6", "1e-4", "1e-2", "1"], "range": ["M-4.3,0H-1M1,0H4.3M-1,0A1,1 0 1,1 1,0A1,1 0 1,1 -1,0", "M-4.3,0H-0.9M0.9,0H4.3M-0.9,-0.9H0.9V0.9H-0.9Z", "M-4.3,0H-0.6M0.6,0H4.3M0,-1.1L1.05,0.75L-1.05,0.75Z", "M-4.3,0H-0.75M0.75,0H4.3M0,-1.2L0.75,0L0,1.2L-0.75,0Z"]}, "legend": {"orient": "bottom-left", "offset": 10, "title": null, "labelExpr": "datum.value == '1e-6' ? 'ε = 10⁻⁶' : datum.value == '1e-4' ? 'ε = 10⁻⁴' : datum.value == '1e-2' ? 'ε = 10⁻²' : 'ε = 1'", "symbolSize": 100, "symbolStrokeWidth": 1, "symbolOffset": 13, "labelOffset": 17, "labelFontSize": 23, "labelColor": "#111", "rowPadding": 6, "padding": 9, "strokeColor": "#444", "fillColor": "#ffffff"}}}}
 ],
 "resolve": {"scale": {"color": "independent", "shape": "independent"}, "axis": {"x": "independent", "y": "independent"}}
},
{
 "width": 349, "height": 284,
 "title": {"text": "L²(Qₜ) and L∞(0, T; L²) distance", "frame": "group", "dx": -16},
 "data": {"name": "dist"},
 "layer": [
  {"mark": {"type": "line", "strokeWidth": 1},
   "encoding": {
    "x": {"field": "eps", "type": "quantitative", "scale": {"type": "log", "domain": [1e-8, 1], "nice": false}, "axis": {"orient": "bottom", "values": [1e-7, 1e-5, 1e-3, 0.1], "labelExpr": "datum.value < 1e-6 ? '10⁻⁷' : datum.value < 1e-4 ? '10⁻⁵' : datum.value < 0.01 ? '10⁻³' : '10⁻¹'", "title": "ε"}},
    "y": {"field": "v", "type": "quantitative", "scale": {"type": "log", "domain": [1e-8, 100], "nice": false}, "axis": {"orient": "left", "values": [1e-8, 1e-5, 0.01, 10], "labelExpr": "datum.value < 1e-7 ? '10⁻⁸' : datum.value < 1e-4 ? '10⁻⁵' : datum.value < 0.1 ? '10⁻²' : '10¹'", "title": null}},
    "color": {"field": "s", "type": "nominal", "scale": {"domain": ["L2 IP", "L2 WP", "L2 SWP", "Linf IP", "Linf WP", "Linf SWP"], "range": ["#0072BD", "#D95319", "#EDB120", "#0072BD", "#D95319", "#EDB120"]}, "legend": null},
    "strokeDash": {"field": "s", "type": "nominal", "scale": {"domain": ["L2 IP", "L2 WP", "L2 SWP", "Linf IP", "Linf WP", "Linf SWP"], "range": [[6, 4], [6, 4], [6, 4], [1, 0], [1, 0], [1, 0]]}, "legend": null}}},
  {"mark": {"type": "point", "filled": false, "size": 75, "strokeWidth": 1, "opacity": 1},
   "encoding": {
    "x": {"field": "eps", "type": "quantitative", "scale": {"type": "log", "domain": [1e-8, 1], "nice": false}, "axis": {"orient": "top", "values": [1e-7, 1e-5, 1e-3, 0.1], "labels": false, "title": null}},
    "y": {"field": "v", "type": "quantitative", "scale": {"type": "log", "domain": [1e-8, 100], "nice": false}, "axis": {"orient": "right", "values": [1e-8, 1e-5, 0.01, 10], "labels": false, "title": null}},
    "color": {"field": "s", "type": "nominal", "scale": {"domain": ["L2 IP", "L2 WP", "L2 SWP", "Linf IP", "Linf WP", "Linf SWP"], "range": ["#0072BD", "#D95319", "#EDB120", "#0072BD", "#D95319", "#EDB120"]}, "legend": null},
    "shape": {"field": "s", "type": "nominal", "scale": {"domain": ["L2 IP", "L2 WP", "L2 SWP", "Linf IP", "Linf WP", "Linf SWP"], "range": ["M-0.8,-0.9Q0.6,0 -0.8,0.9M-1,0H0.9", "M-0.8,-0.9Q0.6,0 -0.8,0.9M-1,0H0.9", "M-0.8,-0.9Q0.6,0 -0.8,0.9M-1,0H0.9", "circle", "triangle-up", "M0,-1.2L0.75,0L0,1.2L-0.75,0Z"]}, "legend": null}}},
  {"transform": [{"filter": "false"}],
   "mark": {"type": "point", "filled": false, "opacity": 1},
   "encoding": {
    "x": {"field": "eps", "type": "quantitative", "scale": {"type": "log", "domain": [1e-8, 1], "nice": false}, "axis": null},
    "y": {"field": "v", "type": "quantitative", "scale": {"type": "log", "domain": [1e-8, 100], "nice": false}, "axis": null},
    "color": {"field": "s", "type": "nominal", "scale": {"domain": ["L2 IP", "L2 WP", "L2 SWP", "Linf IP", "Linf WP", "Linf SWP"], "range": ["#0072BD", "#D95319", "#EDB120", "#0072BD", "#D95319", "#EDB120"]}, "legend": {"orient": "bottom-right", "offset": 10, "title": null, "labelExpr": "datum.value == 'L2 IP' ? 'L²ₜ; IP' : datum.value == 'L2 WP' ? 'L²ₜ; WP' : datum.value == 'L2 SWP' ? 'L²ₜ; SWP' : datum.value == 'Linf IP' ? 'L∞ₜ; IP' : datum.value == 'Linf WP' ? 'L∞ₜ; WP' : 'L∞ₜ; SWP'", "symbolSize": 100, "symbolStrokeWidth": 1, "symbolOffset": 7, "labelOffset": 17, "labelFontSize": 23, "labelColor": "#111", "rowPadding": 6, "padding": 9, "strokeColor": "#444", "fillColor": "#ffffff"}},
    "shape": {"field": "s", "type": "nominal", "scale": {"domain": ["L2 IP", "L2 WP", "L2 SWP", "Linf IP", "Linf WP", "Linf SWP"], "range": ["M-4.3,0H-3.2M-2.5,0H-1.4M-0.8,-0.9Q0.6,0 -0.8,0.9M-1,0H0.9M1.5,0H2.6M3.2,0H4.3", "M-4.3,0H-3.2M-2.5,0H-1.4M-0.8,-0.9Q0.6,0 -0.8,0.9M-1,0H0.9M1.5,0H2.6M3.2,0H4.3", "M-4.3,0H-3.2M-2.5,0H-1.4M-0.8,-0.9Q0.6,0 -0.8,0.9M-1,0H0.9M1.5,0H2.6M3.2,0H4.3", "M-4.3,0H-1M1,0H4.3M-1,0A1,1 0 1,1 1,0A1,1 0 1,1 -1,0", "M-4.3,0H-0.6M0.6,0H4.3M0,-1.1L1.05,0.75L-1.05,0.75Z", "M-4.3,0H-0.75M0.75,0H4.3M0,-1.2L0.75,0L0,1.2L-0.75,0Z"]}, "legend": {"orient": "bottom-right", "offset": 10, "title": null, "labelExpr": "datum.value == 'L2 IP' ? 'L²ₜ; IP' : datum.value == 'L2 WP' ? 'L²ₜ; WP' : datum.value == 'L2 SWP' ? 'L²ₜ; SWP' : datum.value == 'Linf IP' ? 'L∞ₜ; IP' : datum.value == 'Linf WP' ? 'L∞ₜ; WP' : 'L∞ₜ; SWP'", "symbolSize": 100, "symbolStrokeWidth": 1, "symbolOffset": 7, "labelOffset": 17, "labelFontSize": 23, "labelColor": "#111", "rowPadding": 6, "padding": 9, "strokeColor": "#444", "fillColor": "#ffffff"}}}}
 ],
 "resolve": {"scale": {"color": "independent", "shape": "independent"}, "axis": {"x": "independent", "y": "independent"}}
}
]
}
